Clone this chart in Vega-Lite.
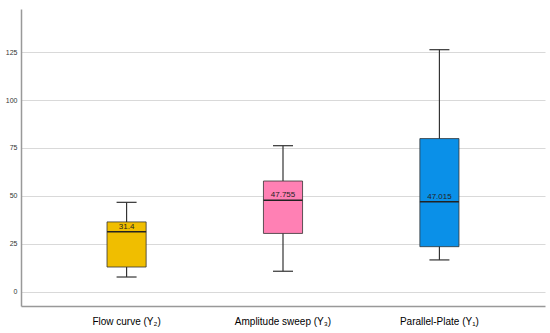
{
  "$schema": "https://vega.github.io/schema/vega-lite/v6.json",
  "width": 524,
  "height": 297,
  "autosize": "none",
  "padding": {"left": 21, "top": 9, "right": 5, "bottom": 27},
  "background": "white",
  "config": {
    "view": {"stroke": null},
    "font": "Liberation Sans"
  },
  "data": {
    "values": [
      {"method": "Flow curve (Y₂)", "min": 7.8, "q1": 13.0, "median": 31.4, "q3": 36.5, "max": 46.7, "label": "31.4", "color": "#F0BE00"},
      {"method": "Amplitude sweep (Y₃)", "min": 10.8, "q1": 30.5, "median": 47.755, "q3": 57.8, "max": 76.2, "label": "47.755", "color": "#FF80B4"},
      {"method": "Parallel-Plate (Y₁)", "min": 16.7, "q1": 23.6, "median": 47.015, "q3": 79.9, "max": 126.2, "label": "47.015", "color": "#0A90E8"}
    ]
  },
  "encoding": {
    "x": {
      "field": "method",
      "type": "nominal",
      "sort": null,
      "scale": {"type": "band", "paddingInner": 0.75, "paddingOuter": 0.55},
      "axis": {
        "title": null,
        "labelAngle": 0,
        "ticks": false,
        "grid": false,
        "domainColor": "#999999",
        "domainWidth": 1.5,
        "labelPadding": 10,
        "labelFontSize": 10,
        "labelColor": "#000000"
      }
    }
  },
  "layer": [
    {
      "mark": {"type": "rule", "color": "#333333", "strokeWidth": 1.2},
      "encoding": {
        "y": {
          "field": "min",
          "type": "quantitative",
          "scale": {"domain": [-7.3, 147.4], "nice": false, "zero": false},
          "axis": {
            "title": null,
            "values": [0, 25, 50, 75, 100, 125],
            "ticks": false,
            "grid": true,
            "gridColor": "#d9d9d9",
            "gridWidth": 1.2,
            "domainColor": "#999999",
            "domainWidth": 1.5,
            "labelFontSize": 7,
            "labelColor": "#333333",
            "labelPadding": 4
          }
        },
        "y2": {"field": "max"}
      }
    },
    {
      "mark": {"type": "bar", "stroke": "#333333", "strokeWidth": 0.8, "width": {"band": 1}},
      "encoding": {
        "y": {"field": "q1", "type": "quantitative"},
        "y2": {"field": "q3"},
        "color": {"field": "color", "type": "nominal", "scale": null}
      }
    },
    {
      "mark": {"type": "tick", "color": "#222222", "thickness": 1.5, "size": 39, "opacity": 1},
      "encoding": {
        "y": {"field": "median", "type": "quantitative"}
      }
    },
    {
      "mark": {"type": "tick", "color": "#333333", "thickness": 1.2, "size": 20, "opacity": 1},
      "encoding": {
        "y": {"field": "min", "type": "quantitative"}
      }
    },
    {
      "mark": {"type": "tick", "color": "#333333", "thickness": 1.2, "size": 20, "opacity": 1},
      "encoding": {
        "y": {"field": "max", "type": "quantitative"}
      }
    },
    {
      "mark": {"type": "text", "fontSize": 8, "color": "#222222", "dy": -5, "baseline": "middle"},
      "encoding": {
        "y": {"field": "median", "type": "quantitative"},
        "text": {"field": "label"}
      }
    }
  ]
}
